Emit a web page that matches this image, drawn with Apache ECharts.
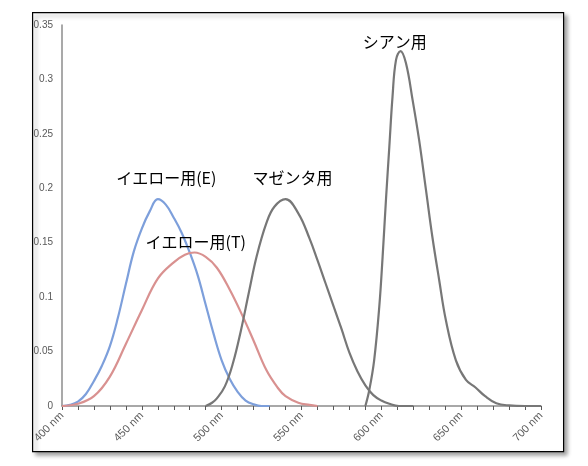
<!DOCTYPE html>
<html lang="ja">

<head>
    <meta charset="UTF-8">
    <title>分光吸収</title>
    <script src="https://cdn.jsdelivr.net/npm/echarts@6/dist/echarts.min.js"></script>
    <style>
        html, body {
            margin: 0;
            padding: 0;
            background: #fff;
        }
        #chart {
            width: 588px;
            height: 466px;
        }
    </style>
</head>

<body>
    <div id="chart"></div>
</body>
<script>
    // [波長 nm, 吸光度]
    var yellowE = [
        [400, 0], [405, 0.001], [410, 0.004], [415, 0.011], [420, 0.023], [425, 0.037],
        [430, 0.055], [435, 0.081], [440, 0.112], [445, 0.142], [450, 0.163],
        [455, 0.179], [460, 0.19], [465, 0.185], [470, 0.173], [475, 0.159],
        [480, 0.141], [485, 0.12], [490, 0.093], [495, 0.066], [500, 0.042],
        [505, 0.025], [510, 0.013], [515, 0.005], [520, 0.0015], [525, 0], [530, 0]
    ];
    var yellowT = [
        [400, 0], [410, 0.002], [420, 0.009], [430, 0.027], [440, 0.057],
        [450, 0.088], [460, 0.117], [470, 0.132], [477, 0.139], [483, 0.141],
        [490, 0.137], [497, 0.127], [505, 0.107], [513, 0.083], [520, 0.06],
        [528, 0.033], [535, 0.017], [540, 0.009], [548, 0.003], [555, 0.001], [560, 0]
    ];
    var magenta = [
        [490, 0], [494, 0.003], [497, 0.007], [502, 0.018], [507, 0.039], [512, 0.069],
        [517, 0.104], [522, 0.138], [528, 0.168], [533, 0.183], [540, 0.19],
        [548, 0.177], [555, 0.154], [560, 0.134], [565, 0.113], [570, 0.092],
        [575, 0.071], [580, 0.049], [585, 0.032], [590, 0.019], [595, 0.01],
        [600, 0.005], [605, 0.002], [611, 0], [620, 0]
    ];
    var cyan = [
        [590, 0], [592.5, 0.015], [595.5, 0.042], [598.7, 0.091], [600.8, 0.137],
        [603, 0.192], [605, 0.238], [607, 0.284], [609.2, 0.318], [612, 0.326],
        [615.4, 0.315], [619.6, 0.281], [623.7, 0.244], [628, 0.198], [632, 0.155],
        [636.2, 0.116], [640.4, 0.079], [646.7, 0.042], [653, 0.024], [659, 0.017],
        [665, 0.009], [672, 0.0025], [680, 0.0005], [690, 0], [700, 0]
    ];

    var names = ['イエロー用(E)', 'イエロー用(T)', 'マゼンタ用', 'シアン用'];
    // ラベル位置 [nm, 値]
    var labelAt = [[465.3, 0.2096], [483.8, 0.1507], [544.4, 0.2096], [608.4, 0.3346]];
    var colors = ['#7d9fdb', '#d99190', '#777777', '#777777'];
    var seriesData = [yellowE, yellowT, magenta, cyan];

    var axisFont = {
        color: '#595959',
        fontFamily: 'Liberation Sans, Arial, sans-serif'
    };

    var my = echarts.init(document.getElementById('chart'));

    var series = seriesData.map(function (d, i) {
        return {
            name: names[i],
            type: 'line',
            data: d,
            smooth: 0.4,
            symbol: 'none',
            silent: true,
            lineStyle: {
                color: colors[i],
                width: 2.2
            },
            markPoint: {
                symbol: 'circle',
                symbolSize: 0,
                silent: true,
                data: [{ coord: labelAt[i] }],
                label: {
                    show: true,
                    position: 'inside',
                    formatter: names[i],
                    color: '#000',
                    fontSize: 16,
                    fontFamily: 'Noto Sans CJK JP'
                }
            }
        };
    });

    var option = {
        backgroundColor: '#fff',
        animation: false,
        graphic: [{
            type: 'rect',
            left: 32,
            top: 12,
            shape: { width: 531, height: 439 },
            style: {
                fill: '#fff',
                stroke: '#000',
                lineWidth: 1.2,
                shadowColor: 'rgba(0,0,0,0.35)',
                shadowBlur: 4,
                shadowOffsetX: 3,
                shadowOffsetY: 3
            },
            z: -10
        }],
        grid: {
            left: 62,
            right: 47,
            top: 25,
            bottom: 60
        },
        xAxis: {
            type: 'value',
            min: 400,
            max: 700,
            interval: 10,
            splitLine: { show: false },
            axisLine: { lineStyle: { color: '#8c8c8c', width: 1.5 } },
            axisTick: { show: true, length: 4, lineStyle: { color: '#595959' } },
            axisLabel: Object.assign({
                rotate: 45,
                margin: 8,
                fontSize: 11,
                showMaxLabel: true,
                formatter: function (v) {
                    return v % 50 === 0 ? v + ' nm' : '';
                }
            }, axisFont)
        },
        yAxis: {
            type: 'value',
            min: 0,
            max: 0.35,
            interval: 0.05,
            splitLine: { show: false },
            axisLine: { show: true, lineStyle: { color: '#8c8c8c', width: 1.5 } },
            axisTick: { show: false },
            axisLabel: Object.assign({ margin: 9, fontSize: 10 }, axisFont)
        },
        series: series
    };

    my.setOption(option);
</script>

</html>
